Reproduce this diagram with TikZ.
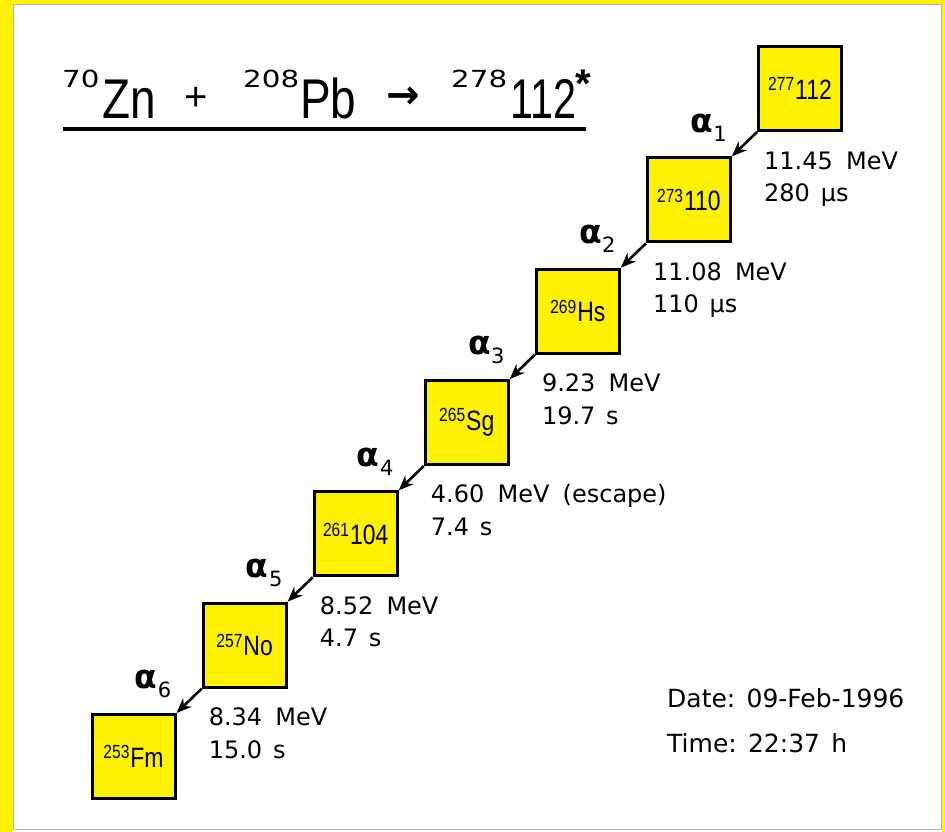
\documentclass[tikz,border=0pt]{standalone}
\usepackage{fontspec}
\setmainfont{DejaVu Sans}
\newfontfamily\narrowfont[FakeStretch=0.82]{Liberation Sans}
\newfontfamily\plainlib{Liberation Sans}
\newfontfamily\supwide[FakeStretch=1.25]{DejaVu Sans}
\usetikzlibrary{arrows.meta,calc}
\newcommand{\nuclab}[2]{{\narrowfont\fontsize{19}{20}\selectfont\raisebox{8.5pt}{#1}}\kern1pt{\narrowfont\fontsize{28}{30}\selectfont #2}}
\tikzset{
  nbox/.style={draw, line width=3pt, fill=yellow, minimum width=83pt, minimum height=84pt, inner sep=0pt},
  etext/.style={anchor=base west, inner sep=0pt, font=\fontsize{24}{26}\selectfont},
  alph/.style={inner sep=0pt, font=\bfseries\fontsize{33}{35}\selectfont},
  asub/.style={inner sep=0pt, font=\fontsize{21}{23}\selectfont},
  arr/.style={line width=2.6pt, -{Stealth[length=15pt,width=12pt]}},
  ttl/.style={anchor=base west, inner sep=0pt, font=\narrowfont\fontsize{56}{60}\selectfont},
  tsup/.style={anchor=base west, inner sep=0pt, font=\supwide\fontsize{23.5}{25}\selectfont},
  dtext/.style={anchor=base west, inner sep=0pt, font=\fontsize{25}{27}\selectfont},
}
\begin{document}
\begin{tikzpicture}[x=1pt,y=-1pt]
  \useasboundingbox (0,0) rectangle (945,832);
  % background frame
  \fill[yellow] (0,0) rectangle (945,832);
  \fill[white] (13,4) rectangle (942,832);
  \draw[gray!60, line width=1.2pt] (13.5,4.5) rectangle (941.5,829.5);

  % title
  \node[tsup] (s70) at (62,88) {70};
  \node[ttl] (zn) at (102,118.6) {Zn};
  \node[inner sep=0pt, font=\plainlib\fontsize{40}{42}\selectfont] (plus) at (196,99) {+};
  \node[tsup] (s208) at (243,88) {208};
  \node[ttl] (pb) at (300,118.6) {Pb};
  \node[inner sep=0pt, font=\bfseries\fontsize{40}{42}\selectfont] (rarr) at (403.5,98) {→};
  \node[tsup] (s278) at (451,88) {278};
  \node[ttl] (n112) at (510,118.6) {\scalebox{0.9}[1]{112}};
  \node[inner sep=0pt, font=\plainlib\bfseries\fontsize{40}{42}\selectfont] (star) at (583.5,84) {*};
  \coordinate (ul1) at (63,129);
  \coordinate (ul2) at (586,129);
  \draw[line width=3.5pt] (ul1) -- (ul2);

  % decay chain boxes
  \foreach \i/\A/\X in {0/277/112, 1/273/110, 2/269/Hs, 3/265/Sg, 4/261/104, 5/257/No, 6/253/Fm}
    \node[nbox] (b\i) at ({800-111.08*\i},{88.5+111.33*\i}) {\nuclab{\A}{\X}};

  % arrows, alpha labels, energies
  \foreach \i/\j/\E/\T in {0/1/11.45/280\hspace{0.45em}µs, 1/2/11.08/110\hspace{0.45em}µs, 2/3/9.23/19.7\hspace{0.45em}s, 3/4/4.60/7.4\hspace{0.45em}s, 4/5/8.52/4.7\hspace{0.45em}s, 5/6/8.34/15.0\hspace{0.45em}s} {
    \draw[arr] (b\i.south west) -- (b\j.north east);
    \node[alph] (a\i) at ($(b\i.south west)+(-55.5,-9)$) {α};
    \node[asub] (as\i) at ($(b\i.south west)+(-37,1.5)$) {\j};
    \node[etext] (t\i) at ($(b\i.south west)+(7,69.5)$) {\T};
  }
  \node[etext] (e0) at ($(b0.south west)+(7,37)$) {11.45\hspace{0.55em}MeV};
  \node[etext] (e1) at ($(b1.south west)+(7,37)$) {11.08\hspace{0.55em}MeV};
  \node[etext] (e2) at ($(b2.south west)+(7,37)$) {9.23\hspace{0.55em}MeV};
  \node[etext] (e3) at ($(b3.south west)+(7,37)$) {4.60\hspace{0.55em}MeV\hspace{0.55em}(escape)};
  \node[etext] (e4) at ($(b4.south west)+(7,37)$) {8.52\hspace{0.55em}MeV};
  \node[etext] (e5) at ($(b5.south west)+(7,37)$) {8.34\hspace{0.55em}MeV};

  % date and time
  \node[dtext] (date) at (667,707) {Date:\hspace{0.45em}09-Feb-1996};
  \node[dtext] (time) at (667,752) {Time:\hspace{0.45em}22:37\hspace{0.45em}h};
\end{tikzpicture}
\end{document}
